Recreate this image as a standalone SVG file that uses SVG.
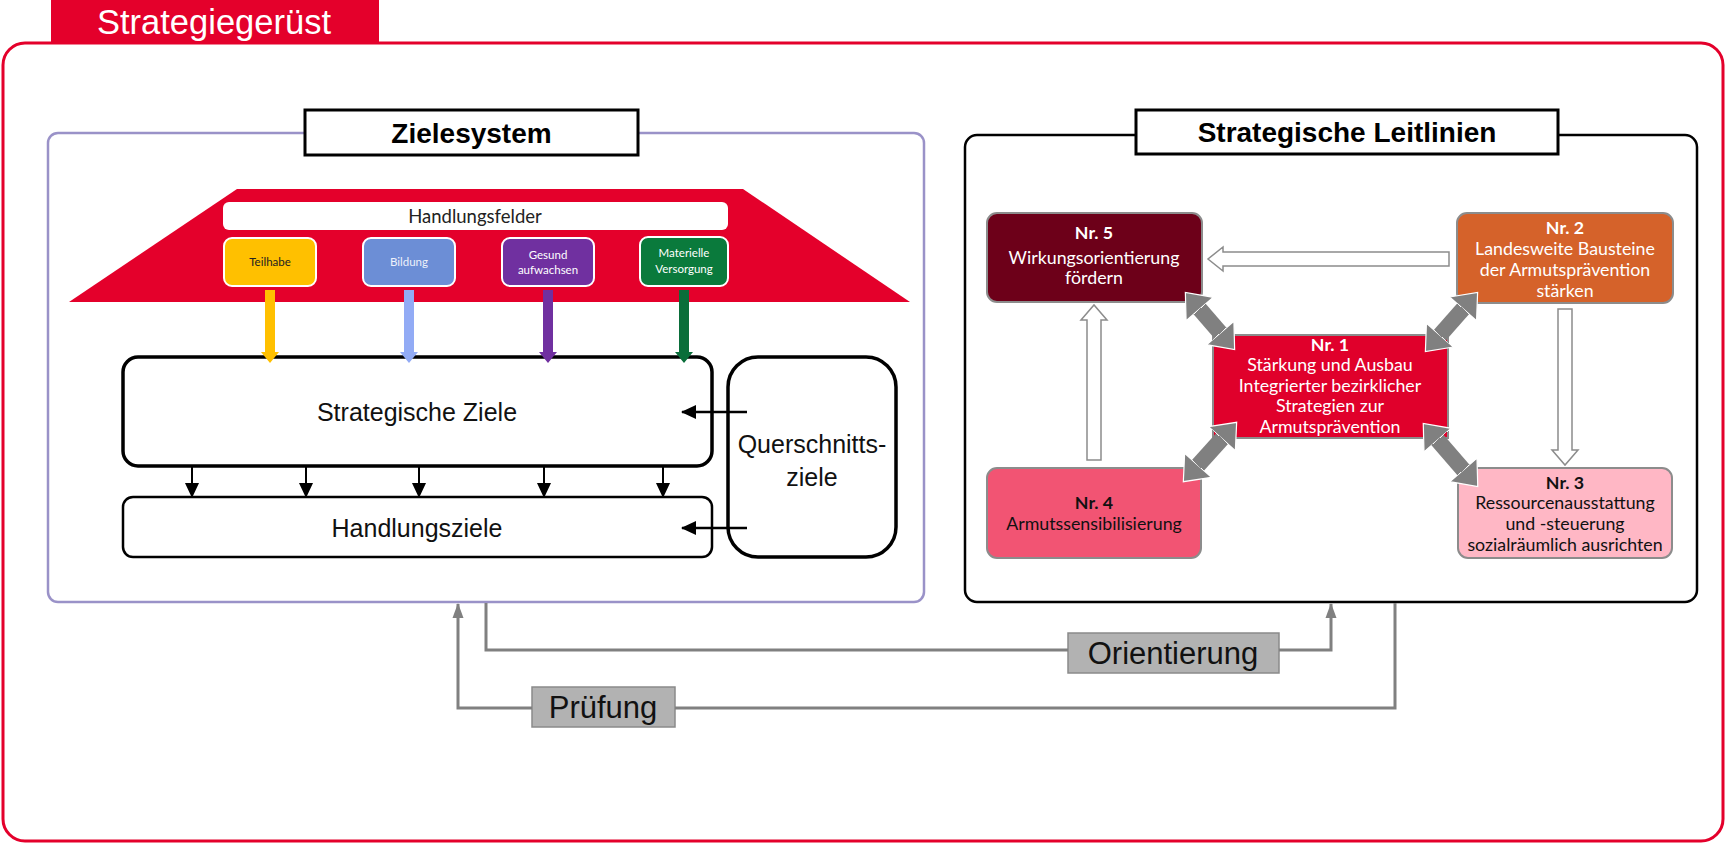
<svg xmlns="http://www.w3.org/2000/svg" width="1726" height="844" viewBox="0 0 1726 844">
<style>
.geo{font-family:"Liberation Sans",Arial,sans-serif;}
.cal{font-family:Lato,"Open Sans","Liberation Sans",sans-serif;}
.ttl{font-family:"Liberation Sans",Arial,sans-serif;font-weight:bold;font-size:28px;fill:#000;text-anchor:middle;}
.big{font-family:"Liberation Sans",Arial,sans-serif;font-size:25px;fill:#111;text-anchor:middle;}
.nr{font-family:Lato,"Open Sans",sans-serif;font-size:17.8px;text-anchor:middle;}
.nrb{font-weight:bold;}
.sm{font-family:Lato,"Open Sans",sans-serif;font-size:11.5px;text-anchor:middle;}
.lbl{font-family:"Liberation Sans",Arial,sans-serif;font-size:31px;fill:#111;text-anchor:middle;}
.gbox{fill:#b2b2b2;stroke:#8a8a8a;stroke-width:1.5;}
.conn{fill:none;stroke:#808080;stroke-width:3;}
.hol{fill:#fff;stroke:#8c8c8c;stroke-width:1.5;}
.dbl{stroke:#808080;stroke-width:16;fill:none;}
.nbox{stroke:#8c8c8c;stroke-width:2;}
</style>
<defs>
<marker id="ah" viewBox="0 -8 16 16" markerWidth="16" markerHeight="16" refX="14" refY="0" orient="auto" markerUnits="userSpaceOnUse"><path d="M0,-7 L15,0 L0,7 Z" fill="#000"/></marker>
<marker id="ahg" viewBox="0 -7 16 14" markerWidth="16" markerHeight="14" refX="14" refY="0" orient="auto" markerUnits="userSpaceOnUse"><path d="M0,-5.5 L15,0 L0,5.5 Z" fill="#808080"/></marker>
<marker id="dh" viewBox="0 -20 24 40" markerWidth="24" markerHeight="40" refX="0.5" refY="0" orient="auto-start-reverse" markerUnits="userSpaceOnUse"><path d="M0,-18 L22,0 L0,18 Z" fill="#808080" stroke="#fff" stroke-width="1.2"/></marker>
</defs>
<rect width="1726" height="844" fill="#fff"/>

<g id="frame">
<rect x="3" y="43" width="1720" height="798" rx="22" fill="none" stroke="#e4002b" stroke-width="3"/>
<rect x="51" y="0" width="328" height="43" fill="#e4002b"/>
<text x="97" y="34" class="geo" font-size="34.5" fill="#fff">Strategiegerüst</text>
</g>

<g id="zielesystem-panel">
<rect x="48" y="133" width="876" height="469" rx="10" fill="none" stroke="#9a92c8" stroke-width="2.5"/>
<rect x="305" y="110" width="333" height="45" fill="#fff" stroke="#000" stroke-width="3"/>
<text x="471.5" y="143" class="ttl">Zielesystem</text>
</g>

<g id="handlungsfelder">
<polygon points="237,189 743,189 910,302 69,302" fill="#e4002b"/>
<rect x="223" y="202" width="505" height="28" rx="6" fill="#fff"/>
<text x="475" y="222.5" class="cal" font-size="18.5" text-anchor="middle" fill="#222">Handlungsfelder</text>
</g>
<g id="teilhabe">
<rect x="224" y="238" width="92" height="48" rx="8" fill="#ffc000" stroke="#fff" stroke-width="2"/>
<text x="270" y="266" class="sm" fill="#222">Teilhabe</text>
</g>
<g id="bildung">
<rect x="363" y="238" width="92" height="48" rx="8" fill="#6c8ed6" stroke="#fff" stroke-width="2"/>
<text x="409" y="266" class="sm" fill="#eef1fa">Bildung</text>
</g>
<g id="gesund">
<rect x="502" y="238" width="92" height="48" rx="8" fill="#7030a0" stroke="#fff" stroke-width="2"/>
<text x="548" y="259" class="sm" fill="#fff">Gesund</text>
<text x="548" y="274" class="sm" fill="#fff">aufwachsen</text>
</g>
<g id="materielle">
<rect x="640" y="237" width="88" height="49" rx="8" fill="#0a7a3c" stroke="#fff" stroke-width="2"/>
<text x="684" y="257" class="sm" fill="#fff">Materielle</text>
<text x="684" y="273" class="sm" fill="#fff">Versorgung</text>
</g>

<g id="strategische-ziele">
<rect x="123" y="357" width="589" height="109" rx="15" fill="#fff" stroke="#000" stroke-width="3.5"/>
<text x="417" y="421" class="big">Strategische Ziele</text>
</g>
<g id="handlungsziele">
<rect x="123" y="497" width="589" height="60" rx="10" fill="#fff" stroke="#000" stroke-width="2.5"/>
<text x="417" y="537" class="big">Handlungsziele</text>
</g>
<g id="querschnittsziele">
<rect x="728" y="357" width="168" height="200" rx="30" fill="#fff" stroke="#000" stroke-width="3.5"/>
<text x="812" y="453" class="big">Querschnitts-</text>
<text x="812" y="486" class="big">ziele</text>
</g>

<g id="leitlinien-panel">
<rect x="965" y="135" width="732" height="467" rx="12" fill="none" stroke="#000" stroke-width="2.5"/>
<rect x="1136" y="110" width="422" height="44" fill="#fff" stroke="#000" stroke-width="3"/>
<text x="1347" y="142" class="ttl">Strategische Leitlinien</text>
</g>

<g id="nr5">
<rect x="987" y="213" width="215" height="89" rx="10" fill="#6d0019" class="nbox"/>
<text x="1094" y="239" class="nr nrb" fill="#fff">Nr. 5</text>
<text x="1094" y="264" class="nr" fill="#fff">Wirkungsorientierung</text>
<text x="1094" y="284" class="nr" fill="#fff">fördern</text>
</g>
<g id="nr2">
<rect x="1457" y="213" width="216" height="90" rx="10" fill="#d5622a" class="nbox"/>
<text x="1565" y="234" class="nr nrb" fill="#fff">Nr. 2</text>
<text x="1565" y="255" class="nr" fill="#fff">Landesweite Bausteine</text>
<text x="1565" y="276" class="nr" fill="#fff">der Armutsprävention</text>
<text x="1565" y="297" class="nr" fill="#fff">stärken</text>
</g>
<g id="nr1">
<rect x="1213" y="335" width="235" height="103" fill="#e0002b" class="nbox"/>
<text x="1330" y="351" class="nr nrb" fill="#fff">Nr. 1</text>
<text x="1330" y="371" class="nr" fill="#fff">Stärkung und Ausbau</text>
<text x="1330" y="392" class="nr" fill="#fff">Integrierter bezirklicher</text>
<text x="1330" y="412" class="nr" fill="#fff">Strategien zur</text>
<text x="1330" y="433" class="nr" fill="#fff">Armutsprävention</text>
</g>
<g id="nr4">
<rect x="987" y="468" width="214" height="90" rx="10" fill="#f25473" class="nbox"/>
<text x="1094" y="509" class="nr nrb" fill="#111">Nr. 4</text>
<text x="1094" y="530" class="nr" fill="#111">Armutssensibilisierung</text>
</g>
<g id="nr3">
<rect x="1458" y="468" width="214" height="90" rx="10" fill="#ffb7c5" class="nbox"/>
<text x="1565" y="489" class="nr nrb" fill="#111">Nr. 3</text>
<text x="1565" y="509" class="nr" fill="#111">Ressourcenausstattung</text>
<text x="1565" y="530" class="nr" fill="#111">und -steuerung</text>
<text x="1565" y="551" class="nr" fill="#111">sozialräumlich ausrichten</text>
</g>

<g id="orientierung-label">
<rect x="1068" y="633" width="211" height="40" class="gbox"/>
<text x="1173" y="664" class="lbl">Orientierung</text>
</g>
<g id="pruefung-label">
<rect x="532" y="687" width="143" height="40" class="gbox"/>
<text x="603" y="718" class="lbl">Prüfung</text>
</g>

<g id="connectors">
<polygon points="265,290 275,290 275,352 279,352 270,363 261,352 265,352" fill="#ffc000"/>
<polygon points="404,290 414,290 414,352 418,352 409,363 400,352 404,352" fill="#92abf5"/>
<polygon points="543,290 553,290 553,352 557,352 548,363 539,352 543,352" fill="#7030a0"/>
<polygon points="679,290 689,290 689,352 693,352 684,363 675,352 679,352" fill="#0a6e3a"/>
<line x1="192" y1="466" x2="192" y2="497" stroke="#000" stroke-width="2" marker-end="url(#ah)"/>
<line x1="306" y1="466" x2="306" y2="497" stroke="#000" stroke-width="2" marker-end="url(#ah)"/>
<line x1="419" y1="466" x2="419" y2="497" stroke="#000" stroke-width="2" marker-end="url(#ah)"/>
<line x1="544" y1="466" x2="544" y2="497" stroke="#000" stroke-width="2" marker-end="url(#ah)"/>
<line x1="663" y1="466" x2="663" y2="497" stroke="#000" stroke-width="2" marker-end="url(#ah)"/>
<line x1="747" y1="412" x2="682" y2="412" stroke="#000" stroke-width="2.5" marker-end="url(#ah)"/>
<line x1="747" y1="528" x2="682" y2="528" stroke="#000" stroke-width="2.5" marker-end="url(#ah)"/>
<polygon points="1449,252 1223,252 1223,247 1208,259 1223,271 1223,266 1449,266" class="hol"/>
<polygon points="1087,460 1087,320 1081,320 1094,305 1107,320 1101,320 1101,460" class="hol"/>
<polygon points="1558,309 1558,450 1552,450 1565,465 1578,450 1572,450 1572,309" class="hol"/>
<line x1="1199.4" y1="308.7" x2="1220.6" y2="333.3" class="dbl" marker-start="url(#dh)" marker-end="url(#dh)"/>
<line x1="1463.4" y1="308.5" x2="1439.6" y2="335.5" class="dbl" marker-start="url(#dh)" marker-end="url(#dh)"/>
<line x1="1222.3" y1="438.3" x2="1197.7" y2="465.7" class="dbl" marker-start="url(#dh)" marker-end="url(#dh)"/>
<line x1="1437.3" y1="439.7" x2="1463.7" y2="470.3" class="dbl" marker-start="url(#dh)" marker-end="url(#dh)"/>
<polyline points="486,603 486,650 1068,650" class="conn"/>
<polyline points="1279,650 1331,650 1331,604" class="conn" marker-end="url(#ahg)"/>
<polyline points="1395,603 1395,708 675,708" class="conn"/>
<polyline points="532,708 458,708 458,604" class="conn" marker-end="url(#ahg)"/>
</g>
</svg>
